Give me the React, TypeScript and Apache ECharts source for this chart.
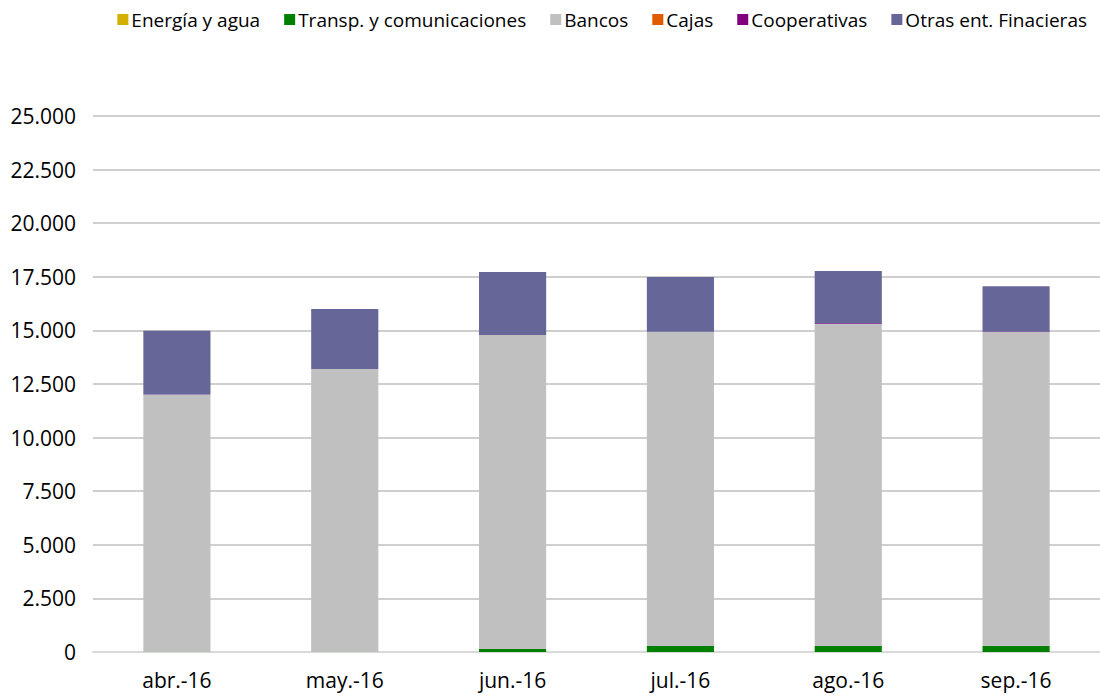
import React, { useEffect, useRef } from "react";
import * as echarts from "echarts";

const categories = ["abr.-16", "may.-16", "jun.-16", "jul.-16", "ago.-16", "sep.-16"];
const energia = [0, 0, 0, 0, 0, 0];
const transp = [10, 10, 140, 280, 280, 295];
const bancos = [11990, 13190, 14645, 14660, 15020, 14630];
const cajas = [0, 0, 0, 0, 0, 0];
const cooperativas = [10, 0, 0, 0, 30, 20];
const otras = [2975, 2800, 2940, 2550, 2440, 2115];

const seriesNames = ["Energía y agua", "Transp. y comunicaciones", "Bancos", "Cajas", "Cooperativas", "Otras ent. Finacieras"];
const seriesColors = ["#d4b000", "#008000", "#c0c0c0", "#e05a00", "#800080", "#666699"];
const seriesData = [energia, transp, bancos, cajas, cooperativas, otras];

const FONT = "'Open Sans', 'Noto Sans', sans-serif";

export default function App() {
  const ref = useRef<HTMLDivElement>(null);
  useEffect(() => {
    if (!ref.current) return;
    const chart = echarts.init(ref.current, null, { renderer: "svg" });
    chart.setOption({
      animation: false,
      backgroundColor: "#ffffff",
      textStyle: { fontFamily: FONT },
      legend: {
        top: 5,
        right: 8,
        itemWidth: 11,
        itemHeight: 11,
        itemGap: 24,
        icon: "rect",
        textStyle: { fontSize: 19, color: "#000", fontFamily: FONT, padding: [0, 0, 0, -2] },
        data: seriesNames,
      },
      grid: { left: 93, right: 0, top: 116, bottom: 45, containLabel: false },
      xAxis: {
        type: "category",
        data: categories,
        axisLine: { lineStyle: { color: "#d9d9d9", width: 2 } },
        axisTick: { show: false },
        axisLabel: { fontSize: 21, color: "#000", margin: 17, fontFamily: FONT },
      },
      yAxis: {
        type: "value",
        min: 0,
        max: 25000,
        interval: 2500,
        axisLine: { show: false },
        axisTick: { show: false },
        splitLine: { lineStyle: { color: "#bfbfbf", width: 1.5 } },
        axisLabel: {
          fontSize: 21,
          color: "#000",
          margin: 17,
          fontFamily: FONT,
          formatter: (v: number) => v.toLocaleString("de-DE"),
        },
      },
      series: seriesNames.map((name, i) => ({
        name,
        type: "bar",
        stack: "total",
        barWidth: "40%",
        data: seriesData[i],
        itemStyle: { color: seriesColors[i] },
      })),
    });
    return () => chart.dispose();
  }, []);
  return (
    <div
      ref={ref}
      style={{ position: "absolute", left: 0, top: 0, width: 1100, height: 697 }}
    />
  );
}
